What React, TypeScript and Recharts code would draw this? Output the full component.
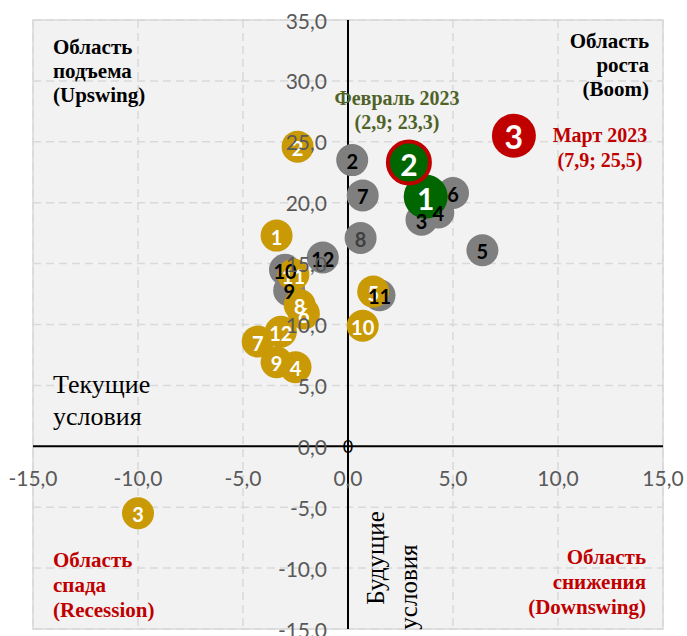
import React from 'react';
import {
  ScatterChart,
  Scatter,
  XAxis,
  YAxis,
  CartesianGrid,
  ReferenceLine,
  ReferenceArea,
  ReferenceDot,
} from 'recharts';

// 2022 (серые)
const grayLabels = ['2', '3', '4', '5', '6', '7', '8', '9', '10', '11', '12'];
const grayX = [0.2, 3.5, 4.3, 6.4, 5.0, 0.7, 0.6, -2.8, -3.0, 1.5, -1.2];
const grayY = [23.5, 18.6, 19.2, 16.1, 20.8, 20.6, 17.1, 12.8, 14.5, 12.4, 15.5];

// 2020 (золотые)
const goldLabels = ['1', '2', '3', '4', '5', '6', '7', '8', '9', '10', '11', '12'];
const goldX = [-3.4, -2.4, -10.0, -2.5, 1.2, -2.1, -4.3, -2.3, -3.4, 0.7, -2.6, -3.2];
const goldY = [17.3, 24.6, -5.5, 6.5, 12.7, 10.9, 8.6, 11.6, 6.9, 9.9, 14.1, 9.4];

// 2023
const greenLabels = ['1', '2'];
const greenX = [3.7, 2.9];
const greenY = [20.5, 23.3];
const redLabels = ['3'];
const redX = [7.9];
const redY = [25.5];

const xTicks = [-15, -10, -5, 0, 5, 10, 15];
const yTicks = [-15, -10, -5, 0, 5, 10, 15, 20, 25, 30, 35];

const W = 687;
const H = 636;
const M = { top: 20, right: 24, bottom: 6, left: 32 };
const AX = 1; // axis thickness reserved
const PLOT_W = W - M.left - M.right - AX;
const PLOT_H = H - M.top - M.bottom - AX;
const ZERO_X = M.left + AX + PLOT_W * (15 / 30);
const ZERO_Y = M.top + PLOT_H * (35 / 50);

const toRows = (labels: string[], xs: number[], ys: number[]) =>
  labels.map((label, i) => ({ x: xs[i], y: ys[i], label }));

const grayData = toRows(grayLabels, grayX, grayY);
const goldData = toRows(goldLabels, goldX, goldY);
const greenData = toRows(greenLabels, greenX, greenY);
const redData = toRows(redLabels, redX, redY);

const fmt = (v: number) => v.toFixed(1).replace('.', ',');
const tickFont = 'Lato, "Open Sans", sans-serif';

const renderXTick = (props: any) => (
  <text
    key={`xt-${props.payload.value}`}
    x={props.x}
    y={ZERO_Y + 31}
    textAnchor="middle"
    dominantBaseline="central"
    fill="#595959"
    fontSize={21}
    fontFamily={tickFont}
  >
    {fmt(props.payload.value)}
  </text>
);

const renderYTick = (props: any) => (
  <text
    key={`yt-${props.payload.value}`}
    x={ZERO_X - 21}
    y={props.y}
    textAnchor="end"
    dominantBaseline="central"
    fill="#595959"
    fontSize={21}
    fontFamily={tickFont}
  >
    {fmt(props.payload.value)}
  </text>
);

const dot = (r: number, fill: string, stroke?: string) => (p: any) => (
  <circle cx={p.cx} cy={p.cy} r={r} fill={fill} stroke={stroke || 'none'} strokeWidth={stroke ? 4 : 0} />
);

const label = (size: number, color: (l: string) => string) => (p: any) => (
  <text
    x={p.cx}
    y={p.cy + 1}
    textAnchor="middle"
    dominantBaseline="central"
    fill={color(p.payload.label)}
    fontSize={size}
    fontWeight="bold"
    fontFamily={tickFont}
  >
    {p.payload.label}
  </text>
);

const serif = '"Liberation Serif", "Times New Roman", serif';

const Note = ({ style, children }: { style: React.CSSProperties; children: React.ReactNode }) => (
  <div style={{ position: 'absolute', fontFamily: serif, whiteSpace: 'nowrap', ...style }}>{children}</div>
);

export default function App() {
  return (
    <div style={{ position: 'absolute', left: 0, top: 0, width: W, height: H, background: '#fff', overflow: 'hidden' }}>
      <ScatterChart width={W} height={H} margin={M}>
        <CartesianGrid fill="#f2f2f2" stroke="#d9d9d9" strokeDasharray="8 5" strokeWidth={1.5} />
        <ReferenceArea x1={-15} x2={15} y1={-15} y2={35} fill="none" stroke="#d9d9d9" strokeWidth={1.5} />
        <ReferenceLine x={0} stroke="#000" strokeWidth={2} />
        <ReferenceLine y={0} stroke="#000" strokeWidth={2} />
        <Scatter data={grayData} shape={dot(16, '#7f7f7f')} isAnimationActive={false} />
        <Scatter data={goldData} shape={dot(16, '#c99a06')} isAnimationActive={false} />
        <Scatter data={greenData.slice(0, 1)} shape={dot(22, '#006600')} isAnimationActive={false} />
        <Scatter data={greenData.slice(1)} shape={dot(21, '#006600', '#c00000')} isAnimationActive={false} />
        <Scatter data={redData} shape={dot(22, '#c00000')} isAnimationActive={false} />
        <Scatter data={goldData} shape={label(20, () => '#ffffff')} isAnimationActive={false} />
        <Scatter data={grayData} shape={label(20, (l) => (l === '8' ? '#404040' : '#000000'))} isAnimationActive={false} />
        <Scatter data={greenData} shape={label(30, () => '#ffffff')} isAnimationActive={false} />
        <Scatter data={redData} shape={label(32, () => '#ffffff')} isAnimationActive={false} />
        <XAxis
          type="number"
          dataKey="x"
          domain={[-15, 15]}
          ticks={xTicks}
          height={AX}
          axisLine={false}
          tickLine={false}
          tick={renderXTick}
          interval={0}
        />
        <YAxis
          type="number"
          dataKey="y"
          domain={[-15, 35]}
          ticks={yTicks}
          width={AX}
          axisLine={false}
          tickLine={false}
          tick={renderYTick}
          interval={0}
        />
        <ReferenceDot
          x={0}
          y={0}
          r={1}
          fill="none"
          stroke="none"
          label={{ value: '0', position: 'center', fill: '#000', fontSize: 18, fontFamily: tickFont }}
        />
      </ScatterChart>

      <Note style={{ left: 53, top: 35, fontSize: 21, lineHeight: '24px', fontWeight: 'bold', color: '#000' }}>
        Область<br />подъема<br />(Upswing)
      </Note>
      <Note style={{ right: W - 649, top: 29, fontSize: 21, lineHeight: '24px', fontWeight: 'bold', color: '#000', textAlign: 'right' }}>
        Область<br />роста<br />(Boom)
      </Note>
      <Note style={{ left: 397, top: 86, transform: 'translateX(-50%)', fontSize: 20, lineHeight: '24px', fontWeight: 'bold', color: '#4f6228', textAlign: 'center' }}>
        Февраль 2023<br />(2,9; 23,3)
      </Note>
      <Note style={{ left: 600, top: 123, transform: 'translateX(-50%)', fontSize: 20, lineHeight: '25px', fontWeight: 'bold', color: '#c00000', textAlign: 'center' }}>
        Март 2023<br />(7,9; 25,5)
      </Note>
      <Note style={{ left: 53, top: 369, fontSize: 26, lineHeight: '32px', color: '#000' }}>
        Текущие<br />условия
      </Note>
      <Note style={{ left: 53, top: 548, fontSize: 21, lineHeight: '25px', fontWeight: 'bold', color: '#c00000' }}>
        Область<br />спада<br />(Recession)
      </Note>
      <Note style={{ right: W - 646, top: 545, fontSize: 21, lineHeight: '25px', fontWeight: 'bold', color: '#c00000', textAlign: 'right' }}>
        Область<br />снижения<br />(Downswing)
      </Note>
      <Note style={{ left: 376, top: 558, transform: 'translate(-50%, -50%) rotate(-90deg)', fontSize: 25, color: '#000' }}>
        Будущие
      </Note>
      <Note style={{ left: 409, top: 587, transform: 'translate(-50%, -50%) rotate(-90deg)', fontSize: 25, color: '#000' }}>
        условия
      </Note>
    </div>
  );
}
